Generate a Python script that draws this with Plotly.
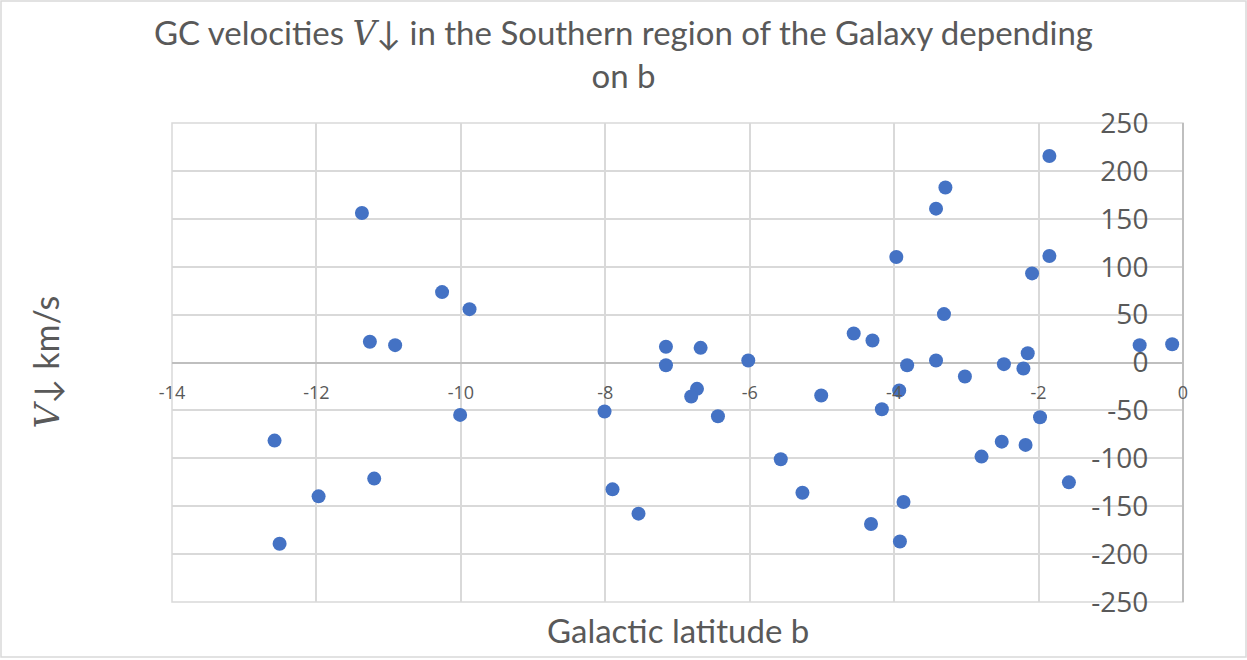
import plotly.graph_objects as go

# Galactic latitude b (degrees)
b_values = [
    -11.37, -10.26, -9.88, -11.26, -10.91, -10.01, -12.58, -11.20, -11.97, -12.51,
    -7.16, -7.16, -6.68, -6.02, -6.73, -6.81, -6.44, -8.01, -7.90, -7.54,
    -5.57, -5.27, -5.01, -4.56, -4.30, -3.97, -3.42, -3.29, -3.31, -3.42,
    -3.82, -3.93, -4.17, -3.02, -2.48, -2.21, -2.15, -2.09, -1.85, -1.85,
    -1.98, -2.51, -2.18, -2.79, -1.58, -3.87, -4.32, -3.92, -0.60, -0.15,
]
# Velocity V (km/s)
v_values = [
    156, 73.5, 55.7, 21.6, 18.1, -54.7, -81.5, -121.2, -139.7, -189.2,
    16.4, -2.8, 15.3, 2.1, -27.5, -35.5, -56.1, -51.2, -132.4, -157.8,
    -101, -135.9, -34.5, 30.3, 23, 110.1, 160.6, 182.6, 50.5, 2.1,
    -2.8, -29.3, -48.8, -14.6, -1.7, -6.3, 9.7, 93, 111.1, 215.6,
    -57.2, -82.6, -86, -98.2, -125.1, -145.6, -168.6, -186.8, 18.1, 19.1,
]

x_ticks = [-14, -12, -10, -8, -6, -4, -2, 0]
y_ticks = [-250, -200, -150, -100, -50, 0, 50, 100, 150, 200, 250]

V_MATH = "<span style=\"font-family:'DejaVu Serif';font-style:italic\">V</span>"
title_text = "GC velocities " + V_MATH + "↓ in the Southern region of the Galaxy depending<br>on b"
x_title = "Galactic latitude b"
y_title = V_MATH + "↓ km/s"

W, H = 1247, 660
L, R, T, B = 172, 64, 123, 58
pw, ph = W - L - R, H - T - B

def px_x(px):
    return (px - L) / pw

def px_y(py):
    return (H - B - py) / ph

grey_text = "#595959"
grid = "#D9D9D9"

fig = go.Figure()
fig.add_trace(go.Scatter(
    x=b_values, y=v_values, mode="markers",
    marker=dict(color="#4472C4", size=14, line=dict(width=0)),
    showlegend=False,
))

fig.update_layout(
    width=W, height=H,
    margin=dict(l=L, r=R, t=T, b=B),
    paper_bgcolor="white", plot_bgcolor="white",
    title=dict(text=title_text, x=0.5, xref="container", xanchor="center",
               y=1 - 45 / H, yref="container", yanchor="middle",
               font=dict(family="Lato", size=33, color=grey_text)),
    xaxis=dict(range=[-14, 0], tickvals=x_ticks, ticktext=[str(t) for t in x_ticks],
               showgrid=True, gridcolor=grid, gridwidth=1.5,
               zeroline=False, showline=False,
               anchor="free", position=0.5, side="bottom",
               ticks="outside", ticklen=0, ticklabelstandoff=14,
               tickfont=dict(family="Open Sans", size=18, color=grey_text)),
    yaxis=dict(range=[-250, 250], tickvals=y_ticks, ticktext=[str(t) for t in y_ticks],
               showgrid=True, gridcolor=grid, gridwidth=1.5,
               zeroline=True, zerolinecolor="#BFBFBF", zerolinewidth=2,
               showline=True, linecolor="#BFBFBF", linewidth=2,
               anchor="free", position=1, side="left",
               ticks="outside", ticklen=0, ticklabelstandoff=28,
               tickfont=dict(family="Open Sans", size=28, color=grey_text)),
    annotations=[
        dict(text=x_title, xref="paper", yref="paper", x=0.5, y=px_y(630),
             xanchor="center", yanchor="middle", showarrow=False,
             font=dict(family="Lato", size=33, color=grey_text)),
        dict(text=y_title, xref="paper", yref="paper", x=px_x(45), y=0.5,
             xanchor="center", yanchor="middle", showarrow=False, textangle=-90,
             font=dict(family="Lato", size=34, color=grey_text)),
    ],
    shapes=[
        dict(type="rect", xref="paper", yref="paper",
             x0=px_x(1), x1=px_x(1246), y0=px_y(657), y1=px_y(1),
             line=dict(color="#D9D9D9", width=1.5), fillcolor="rgba(0,0,0,0)",
             layer="below"),
        dict(type="rect", xref="paper", yref="paper",
             x0=0, x1=1, y0=0, y1=1,
             line=dict(color=grid, width=1.5), fillcolor="rgba(0,0,0,0)",
             layer="below"),
    ],
)

fig.write_html("out.html", config={"displayModeBar": False},
               post_script="document.body.style.margin='0';document.body.style.padding='0';")
